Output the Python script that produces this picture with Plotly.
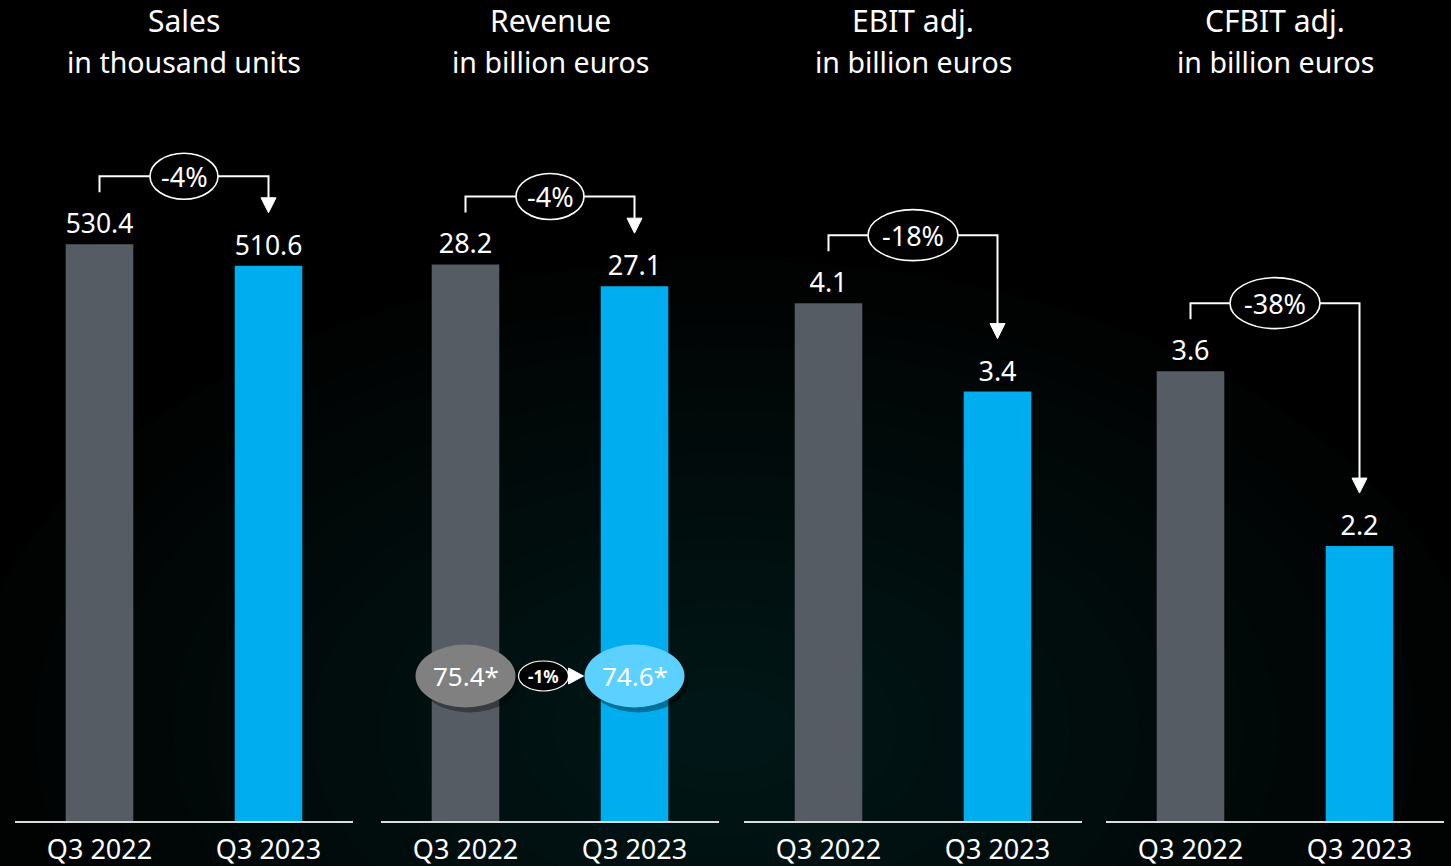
import plotly.graph_objects as go

# ---------------- data ----------------
categories = ["Q3 2022", "Q3 2023"]
titles = ["Sales", "Revenue", "EBIT adj.", "CFBIT adj."]
subtitles = ["in thousand units", "in billion euros", "in billion euros", "in billion euros"]
values_q3_2022 = [530.4, 28.2, 4.1, 3.6]
values_q3_2023 = [510.6, 27.1, 3.4, 2.2]
changes = ["-4%", "-4%", "-18%", "-38%"]
ytd_revenue_labels = ["75.4*", "74.6*"]
ytd_revenue_change = "-1%"

# ---------------- style ----------------
W, H = 1451, 866
MB = 45
PH = H - MB                      # plot height in px
GRAY = "#555c63"
BLUE = "#00aeef"
FONT = "Noto Sans"
y_max = [755, 41.6, 6.5, 6.57]   # per-panel axis ranges
panel_left = [15, 381, 744, 1106]
panel_w = 338
UNIT = panel_w / 2.0             # px per x unit (range -0.5..1.5)

fig = go.Figure()
shapes = []
annotations = []

# background glow
for k in range(22):
    f = 1 - k / 22
    rx = 760 * f
    ry = 470 * f
    cx, cy = 725, 730
    shapes.append(dict(type="circle", xref="paper", yref="paper", layer="below",
                       x0=(cx - rx) / W, x1=(cx + rx) / W,
                       y0=(PH - (cy + ry)) / PH, y1=(PH - (cy - ry)) / PH,
                       fillcolor="#2c3035", opacity=0.032, line=dict(width=0)))

for i in range(4):
    n = "" if i == 0 else str(i + 1)
    xref, yref = "x" + n, "y" + n
    ppu = PH / y_max[i]          # px per data unit

    def yp(v, dpx):
        return v + dpx / ppu

    def xp(x, dpx):
        return x + dpx / UNIT

    vals = [values_q3_2022[i], values_q3_2023[i]]
    xs = list(range(len(categories)))
    fig.add_trace(go.Bar(
        x=xs, y=vals, xaxis=xref, yaxis=yref, width=0.4,
        marker=dict(color=[GRAY, BLUE], line=dict(width=0)),
        text=[f"{v:.1f}" for v in vals], textposition="outside",
        textfont=dict(color="white", size=27, family=FONT),
        cliponaxis=False, showlegend=False, hoverinfo="skip"))

    d0 = panel_left[i] / W
    d1 = (panel_left[i] + panel_w) / W
    fig.update_layout(**{
        "xaxis" + n: dict(domain=[d0, d1], range=[-0.5, 1.5], anchor=yref,
                          tickvals=xs, ticktext=categories, showgrid=False,
                          zeroline=False, showline=True, linecolor="#dcdcdc",
                          linewidth=2, ticks="", ticklabelstandoff=4,
                          tickfont=dict(color="white", size=27, family=FONT),
                          fixedrange=True),
        "yaxis" + n: dict(domain=[0, 1], range=[0, y_max[i]], anchor=xref,
                          visible=False, fixedrange=True),
    })

    # titles
    cxp = (panel_left[i] + panel_w / 2) / W
    annotations.append(dict(xref="paper", yref="paper", x=cxp, y=(PH - 20) / PH,
                            text=titles[i], showarrow=False, xanchor="center",
                            yanchor="middle",
                            font=dict(color="white", size=30, family=FONT)))
    annotations.append(dict(xref="paper", yref="paper", x=cxp, y=(PH - 62) / PH,
                            text=subtitles[i], showarrow=False, xanchor="center",
                            yanchor="middle",
                            font=dict(color="white", size=28.5, family=FONT)))

    # bracket with arrow
    y_start = yp(vals[0], 52)
    y_bar = yp(vals[0], 68)
    y_tip = yp(vals[1], 53)
    shapes.append(dict(type="path", xref=xref, yref=yref,
                       path=f"M 0,{y_start} L 0,{y_bar} L 1,{y_bar} L 1,{y_tip + 12 / ppu}",
                       line=dict(color="white", width=2)))
    shapes.append(dict(type="path", xref=xref, yref=yref,
                       path=(f"M {xp(1, -7.5)},{y_tip + 15 / ppu} L {xp(1, 7.5)},{y_tip + 15 / ppu} "
                             f"L 1,{y_tip} Z"),
                       fillcolor="white", line=dict(color="white", width=1)))
    ew = 68 if len(changes[i]) <= 3 else 90
    eh = 46 if len(changes[i]) <= 3 else 51
    shapes.append(dict(type="circle", xref=xref, yref=yref,
                       x0=xp(0.5, -ew / 2), x1=xp(0.5, ew / 2),
                       y0=y_bar - eh / 2 / ppu, y1=y_bar + eh / 2 / ppu,
                       fillcolor="black", line=dict(color="white", width=1.6)))
    annotations.append(dict(xref=xref, yref=yref, x=0.5, y=y_bar, text=changes[i],
                            showarrow=False, xanchor="center", yanchor="middle",
                            font=dict(color="white", size=27, family=FONT)))

    # revenue year-to-date ovals
    if i == 1:
        y_mid = (PH - 676) / ppu
        oh = 63
        for j, col in enumerate(["#808080", "#5cd0ff"]):
            shapes.append(dict(type="circle", xref=xref, yref=yref,
                               x0=xp(j, -46), x1=xp(j, 54),
                               y0=y_mid - (oh / 2 + 5) / ppu, y1=y_mid + (oh / 2 - 5) / ppu,
                               fillcolor="black", opacity=0.35, line=dict(width=0)))
            shapes.append(dict(type="circle", xref=xref, yref=yref,
                               x0=xp(j, -50), x1=xp(j, 50),
                               y0=y_mid - oh / 2 / ppu, y1=y_mid + oh / 2 / ppu,
                               fillcolor=col, line=dict(width=0)))
            annotations.append(dict(xref=xref, yref=yref, x=j, y=y_mid,
                                    text=ytd_revenue_labels[j], showarrow=False,
                                    font=dict(color="white", size=26, family=FONT)))
        sx = xp(0, 78)
        shapes.append(dict(type="circle", xref=xref, yref=yref,
                           x0=xp(sx, -25), x1=xp(sx, 25),
                           y0=y_mid - 15 / ppu, y1=y_mid + 15 / ppu,
                           fillcolor="black", line=dict(color="white", width=1.2)))
        shapes.append(dict(type="path", xref=xref, yref=yref,
                           path=(f"M {xp(sx, 25)},{y_mid + 8 / ppu} L {xp(sx, 25)},{y_mid - 8 / ppu} "
                                 f"L {xp(sx, 40)},{y_mid} Z"),
                           fillcolor="white", line=dict(color="white", width=1)))
        annotations.append(dict(xref=xref, yref=yref, x=sx, y=y_mid,
                                text="<b>" + ytd_revenue_change + "</b>", showarrow=False,
                                font=dict(color="white", size=17, family=FONT)))

fig.update_layout(
    width=W, height=H, autosize=False,
    margin=dict(l=0, r=0, t=0, b=MB, pad=0),
    paper_bgcolor="black", plot_bgcolor="rgba(0,0,0,0)",
    shapes=shapes, annotations=annotations, showlegend=False,
    font=dict(family=FONT, color="white"),
)

fig.write_html("out.html", config={"displayModeBar": False},
               post_script="document.body.style.margin='0';document.body.style.background='black';")
